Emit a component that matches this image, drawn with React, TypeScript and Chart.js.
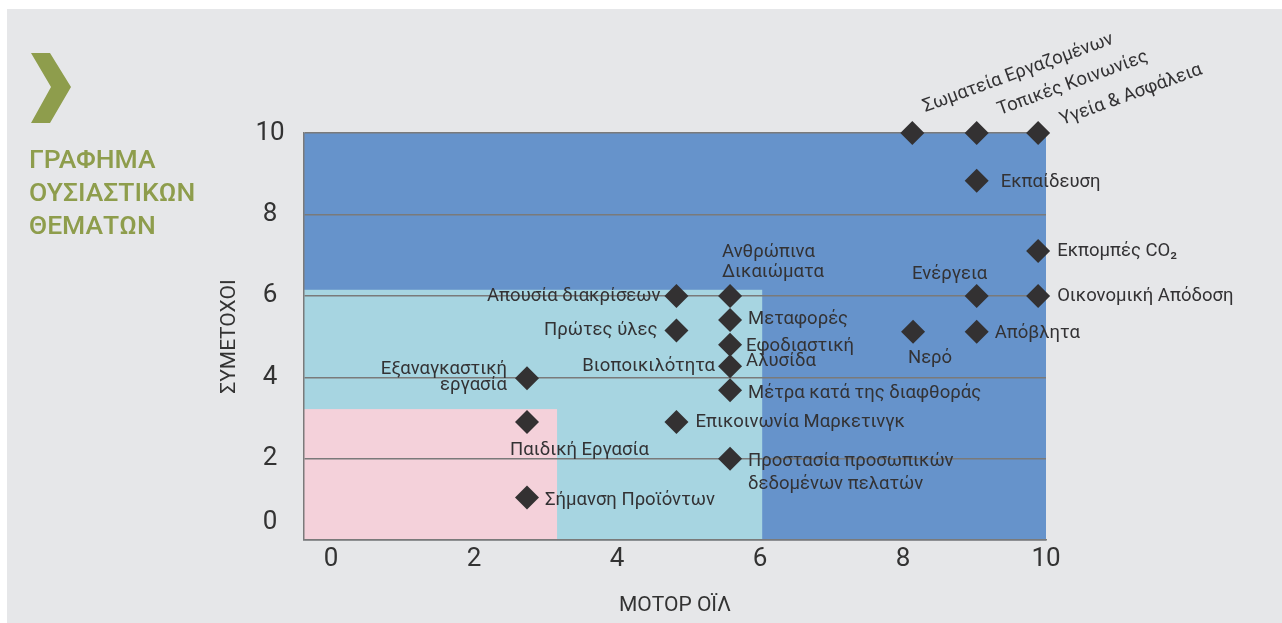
import React, { useEffect, useRef } from 'react';
import { Chart, registerables } from 'chart.js';

Chart.register(...registerables);
Chart.defaults.font.family = 'Roboto';

// ---- data ----
const topicNames = [
  'Σωματεία Εργαζομένων',
  'Τοπικές Κοινωνίες',
  'Υγεία & Ασφάλεια',
  'Εκπαίδευση',
  'Εκπομπές CO₂',
  'Ενέργεια',
  'Οικονομική Απόδοση',
  'Νερό',
  'Απόβλητα',
  'Απουσία διακρίσεων',
  'Ανθρώπινα\nΔικαιώματα',
  'Πρώτες ύλες',
  'Μεταφορές',
  'Εφοδιαστική\nΑλυσίδα',
  'Βιοποικιλότητα',
  'Μέτρα κατά της διαφθοράς',
  'Εξαναγκαστική\nεργασία',
  'Παιδική Εργασία',
  'Επικοινωνία Μαρκετινγκ',
  'Προστασία προσωπικών\nδεδομένων πελατών',
  'Σήμανση Προϊόντων',
];
const motorOilScores = [
  8.13, 9.03, 9.89, 9.03, 9.89, 9.03, 9.89, 8.14, 9.03,
  4.83, 5.58, 4.83, 5.58, 5.58, 5.58, 5.58,
  2.74, 2.74, 4.83, 5.58, 2.74,
];
const stakeholderScores = [
  10, 10, 10, 8.83, 7.1, 6.0, 6.0, 5.12, 5.12,
  6.0, 6.0, 5.15, 5.41, 4.8, 4.27, 3.68,
  3.98, 2.9, 2.9, 2.0, 1.05,
];
const xTickValues = [0, 2, 4, 6, 8, 10];
const yTickValues = [0, 2, 4, 6, 8, 10];
const zoneXMax = [10, 6.03, 3.16];
const zoneYMax = [10, 6.15, 3.22];
const zoneColors = ['#6693cb', '#a7d5e1', '#f4d1da'];

// ---- label layout (dx, dy, align, rotation deg, line height) ----
type Layout = [number, number, CanvasTextAlign, number, number];
const labelLayout: Layout[] = [
  [13, -21, 'left', -20, 0],
  [23, -18, 'left', -20, 0],
  [24, -8, 'left', -20, 0],
  [24, 2, 'left', 0, 0],
  [19, 0, 'left', 0, 0],
  [-27, -22, 'center', 0, 0],
  [19, 0, 'left', 0, 0],
  [17, 27, 'center', 0, 0],
  [18, 2, 'left', 0, 0],
  [-16, 0, 'right', 0, 0],
  [-8, -44, 'left', 0, 20],
  [-19, 0, 'right', 0, 0],
  [18, -1, 'left', 0, 0],
  [16, 2, 'left', 0, 15],
  [-15, 0, 'right', 0, 0],
  [18, 3, 'left', 0, 0],
  [-20, -9, 'right', 0, 16],
  [-17, 28, 'left', 0, 0],
  [19, 0, 'left', 0, 0],
  [18, 3, 'left', 0, 23],
  [18, 3, 'left', 0, 0],
];

const TEXT = '#333234';
const GRID = '#7a7a7a';

const zonesPlugin = {
  id: 'zones',
  beforeDraw(chart: any) {
    const { ctx, scales } = chart;
    const x = scales.x;
    const y = scales.y;
    ctx.save();
    zoneXMax.forEach((xm, i) => {
      const left = x.left;
      const right = x.getPixelForValue(xm);
      const top = y.getPixelForValue(zoneYMax[i]);
      const bottom = y.getPixelForValue(0);
      ctx.fillStyle = zoneColors[i];
      ctx.fillRect(left, top, right - left, bottom - top);
    });
    ctx.restore();
  },
};

const yLabelsPlugin = {
  id: 'yLabels',
  afterDraw(chart: any) {
    const { ctx, scales, chartArea } = chart;
    const y = scales.y;
    ctx.save();
    ctx.font = '26px Roboto';
    ctx.fillStyle = '#333';
    ctx.textAlign = 'center';
    ctx.textBaseline = 'middle';
    y.ticks.forEach((t: any) => {
      const py = y.getPixelForValue(t.value) + (t.value === 0 ? -18 : 0);
      ctx.fillText(String(t.value), chartArea.left - 34, py);
    });
    ctx.restore();
  },
};

const pointLabelsPlugin = {
  id: 'pointLabels',
  afterDatasetsDraw(chart: any) {
    const { ctx } = chart;
    const meta = chart.getDatasetMeta(0);
    ctx.save();
    ctx.font = '18.5px Roboto';
    ctx.fillStyle = TEXT;
    meta.data.forEach((pt: any, i: number) => {
      const [dx, dy, align, rot, lh] = labelLayout[i];
      const lines = topicNames[i].split('\n');
      ctx.save();
      ctx.translate(pt.x + dx, pt.y + dy);
      if (rot) ctx.rotate((rot * Math.PI) / 180);
      ctx.textAlign = align;
      ctx.textBaseline = rot ? 'alphabetic' : 'middle';
      lines.forEach((ln, k) => ctx.fillText(ln, 0, k * lh));
      ctx.restore();
    });
    ctx.restore();
  },
};

export default function App() {
  const canvasRef = useRef<HTMLCanvasElement | null>(null);

  useEffect(() => {
    if (!canvasRef.current) return;
    const chart = new Chart(canvasRef.current, {
      type: 'scatter',
      data: {
        datasets: [
          {
            data: motorOilScores.map((v, i) => ({ x: v, y: stakeholderScores[i] })),
            pointStyle: 'rectRot',
            pointRadius: 12,
            pointHoverRadius: 12,
            backgroundColor: '#333132',
            borderWidth: 0,
            clip: false as any,
          },
        ],
      },
      options: {
        responsive: false,
        animation: false,
        events: [],
        layout: { padding: { left: 207.8, top: 124, right: 236, bottom: 4.4 } },
        plugins: { legend: { display: false }, tooltip: { enabled: false } },
        scales: {
          x: {
            type: 'linear',
            min: -0.38,
            max: 10,
            afterBuildTicks: (s: any) => {
              s.ticks = xTickValues.map((v) => ({ value: v }));
            },
            grid: { display: false, drawTicks: false },
            border: { display: true, color: GRID, width: 1.5 },
            ticks: { font: { family: 'Roboto', size: 26 }, color: '#333', padding: 4 },
            title: {
              display: true,
              text: 'ΜΟΤΟΡ ΟΪΛ',
              font: { family: 'Roboto', size: 21 },
              color: '#333',
              padding: { top: 14, bottom: 0 },
            },
          },
          y: {
            type: 'linear',
            min: 0,
            max: 10,
            afterBuildTicks: (s: any) => {
              s.ticks = yTickValues.map((v) => ({ value: v }));
            },
            grid: { color: GRID, lineWidth: 1.5, drawTicks: false },
            border: { display: true, color: GRID, width: 1.5 },
            ticks: { display: false },
            title: {
              display: true,
              text: 'ΣΥΜΕΤΟΧΟΙ',
              font: { family: 'Roboto', size: 21 },
              color: '#333',
              padding: { top: 2, bottom: 62 },
            },
          },
        },
      },
      plugins: [zonesPlugin, yLabelsPlugin, pointLabelsPlugin],
    } as any);
    return () => chart.destroy();
  }, []);

  return (
    <div
      style={{
        position: 'fixed',
        left: 7,
        top: 9,
        width: 1275,
        height: 614,
        background: '#e6e7e9',
        overflow: 'hidden',
      }}
    >
      <canvas
        ref={canvasRef}
        width={1275}
        height={614}
        style={{ position: 'absolute', left: 0, top: 0, width: 1275, height: 614 }}
      />
      <svg
        width={80}
        height={130}
        style={{ position: 'absolute', left: 0, top: 0 }}
      >
        <polygon points="24,44 43,44 64,78 43,114 24,114 44,78" fill="#8e9d4c" />
      </svg>
      <div
        style={{
          position: 'absolute',
          left: 22,
          top: 133,
          fontFamily: 'Roboto',
          fontWeight: 500,
          fontSize: 26.5,
          lineHeight: '33px',
          color: '#8e9d4c',
          whiteSpace: 'nowrap',
        }}
      >
        ΓΡΑΦΗΜΑ
        <br />
        ΟΥΣΙΑΣΤΙΚΩΝ
        <br />
        ΘΕΜΑΤΩΝ
      </div>
    </div>
  );
}
